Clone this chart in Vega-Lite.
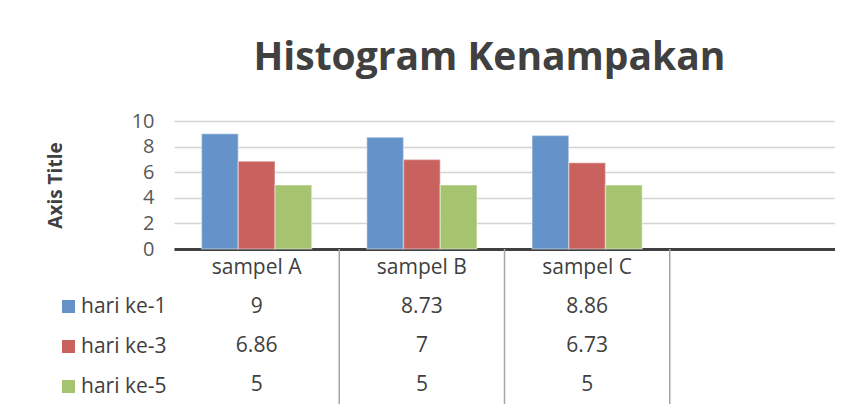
{
  "$schema": "https://vega.github.io/schema/vega-lite/v6.json",
  "background": "white",
  "padding": {"left": 46, "top": 39, "right": 0, "bottom": 0},
  "datasets": {
    "nilai": [
      {"sampel": "sampel A", "hari": "hari ke-1", "nilai": 9},
      {"sampel": "sampel A", "hari": "hari ke-3", "nilai": 6.86},
      {"sampel": "sampel A", "hari": "hari ke-5", "nilai": 5},
      {"sampel": "sampel B", "hari": "hari ke-1", "nilai": 8.73},
      {"sampel": "sampel B", "hari": "hari ke-3", "nilai": 7},
      {"sampel": "sampel B", "hari": "hari ke-5", "nilai": 5},
      {"sampel": "sampel C", "hari": "hari ke-1", "nilai": 8.86},
      {"sampel": "sampel C", "hari": "hari ke-3", "nilai": 6.73},
      {"sampel": "sampel C", "hari": "hari ke-5", "nilai": 5}
    ],
    "kolom": [
      {"sampel": "sampel A", "garis": false},
      {"sampel": "sampel B", "garis": true},
      {"sampel": "sampel C", "garis": true},
      {"sampel": "_", "garis": true}
    ]
  },
  "spacing": 0,
  "bounds": "flush",
  "resolve": {"legend": {"color": "independent"}},
  "vconcat": [
    {
      "width": 661,
      "height": 128,
      "title": {
        "text": "Histogram Kenampakan",
        "font": "Open Sans",
        "fontSize": 39,
        "fontWeight": "bold",
        "color": "#404040",
        "anchor": "middle",
        "frame": "group",
        "dx": -15,
        "offset": 33
      },
      "data": {"name": "nilai"},
      "mark": {"type": "bar", "stroke": "white", "strokeOpacity": 0.35, "strokeWidth": 1.5},
      "encoding": {
        "x": {
          "field": "sampel",
          "type": "nominal",
          "scale": {"domain": ["sampel A", "sampel B", "sampel C", "_"], "paddingInner": 0, "paddingOuter": 0},
          "axis": {"title": null, "labels": false, "ticks": false, "grid": false, "domain": true, "domainColor": "#404040", "domainWidth": 3, "minExtent": 0, "maxExtent": 0}
        },
        "xOffset": {
          "field": "hari",
          "type": "nominal",
          "scale": {"domain": ["hari ke-1", "hari ke-3", "hari ke-5"], "paddingInner": 0, "paddingOuter": 0.75}
        },
        "y": {
          "field": "nilai",
          "type": "quantitative",
          "scale": {"domain": [0, 10]},
          "axis": {
            "title": "Axis Title",
            "titleFont": "Open Sans",
            "titleFontSize": 19,
            "titleFontWeight": "bold",
            "titleColor": "#404040",
            "titlePadding": 66,
            "values": [0, 2, 4, 6, 8, 10],
            "labelFont": "Open Sans",
            "labelFontSize": 20,
            "labelColor": "#595959",
            "labelPadding": 20,
            "domain": false,
            "ticks": false,
            "grid": true,
            "gridColor": "#d4d4d4",
            "gridWidth": 1.5
          }
        },
        "color": {
          "field": "hari",
          "type": "nominal",
          "scale": {"domain": ["hari ke-1", "hari ke-3", "hari ke-5"], "range": ["#6592c8", "#c9625f", "#a6c46f"]},
          "legend": null
        }
      }
    },
    {
      "width": 661,
      "height": 155,
      "layer": [
        {
          "data": {"name": "kolom"},
          "transform": [{"filter": "datum.garis"}],
          "mark": {"type": "rule", "color": "#a6a6a6", "strokeWidth": 1.5},
          "encoding": {
            "x": {"field": "sampel", "type": "nominal", "bandPosition": 0}
          }
        },
        {
          "data": {"name": "kolom"},
          "transform": [{"filter": "datum.sampel != '_'"}],
          "mark": {"type": "text", "font": "Open Sans", "fontSize": 21, "color": "#404040"},
          "encoding": {
            "x": {"field": "sampel", "type": "nominal"},
            "y": {"datum": "header"},
            "text": {"field": "sampel", "type": "nominal"}
          }
        },
        {
          "data": {"name": "nilai"},
          "mark": {"type": "text", "font": "Open Sans", "fontSize": 21, "color": "#404040"},
          "encoding": {
            "x": {"field": "sampel", "type": "nominal"},
            "y": {"field": "hari", "type": "nominal"},
            "text": {"field": "nilai", "type": "nominal"}
          }
        },
        {
          "data": {"name": "nilai"},
          "transform": [{"filter": "datum.nilai > 100"}],
          "mark": {"type": "square", "filled": true},
          "encoding": {
            "x": {"field": "sampel", "type": "nominal"},
            "y": {"field": "hari", "type": "nominal"},
            "color": {
              "field": "hari",
              "type": "nominal",
              "legend": {
                "orient": "none",
                "legendX": -116,
                "legendY": 47,
                "title": null,
                "symbolType": "square",
                "symbolSize": 169,
                "symbolStrokeWidth": 0,
                "symbolOpacity": 1,
                "labelFont": "Open Sans",
                "labelFontSize": 21,
                "labelColor": "#404040",
                "labelOffset": 2,
                "rowPadding": 18,
                "padding": 0
              }
            }
          }
        }
      ],
      "encoding": {
        "x": {
          "field": "sampel",
          "type": "nominal",
          "scale": {"domain": ["sampel A", "sampel B", "sampel C", "_"], "paddingInner": 0, "paddingOuter": 0},
          "axis": null
        },
        "y": {
          "type": "nominal",
          "scale": {"domain": ["header", "hari ke-1", "hari ke-3", "hari ke-5"], "paddingInner": 0, "paddingOuter": 0},
          "axis": null
        }
      }
    }
  ],
  "config": {
    "view": {"stroke": null},
    "font": "Open Sans"
  }
}
